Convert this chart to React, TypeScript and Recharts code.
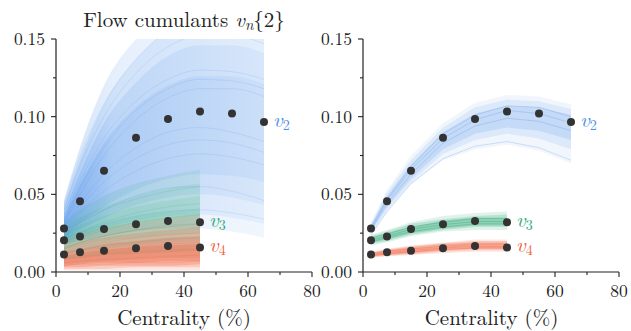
import { Area, ComposedChart, Line, Scatter, XAxis, YAxis } from "recharts";

// centrality bins (%)
const binsV2 = [2.5, 7.5, 15, 25, 35, 45, 55, 65];
const binsV3V4 = [2.5, 7.5, 15, 25, 35, 45];

// measured flow cumulants
const dataV2 = [0.028, 0.0455, 0.0652, 0.0865, 0.0985, 0.1034, 0.1021, 0.0966];
const dataV3 = [0.0205, 0.0229, 0.0277, 0.0307, 0.0328, 0.032];
const dataV4 = [0.0113, 0.0127, 0.0136, 0.0153, 0.0168, 0.0158];

// prior draws: nested envelopes, widest first
const priorV2Env = [
  { lo: [0.017, 0.02, 0.023, 0.026, 0.028, 0.028, 0.026, 0.022], hi: [0.046, 0.08, 0.12, 0.15, 0.168, 0.178, 0.178, 0.172] },
  { lo: [0.018, 0.023, 0.028, 0.033, 0.036, 0.037, 0.035, 0.031], hi: [0.042, 0.072, 0.108, 0.137, 0.155, 0.163, 0.163, 0.158] },
  { lo: [0.02, 0.027, 0.035, 0.043, 0.048, 0.05, 0.048, 0.043], hi: [0.038, 0.064, 0.096, 0.122, 0.139, 0.146, 0.146, 0.141] },
  { lo: [0.022, 0.031, 0.042, 0.053, 0.06, 0.063, 0.062, 0.058], hi: [0.034, 0.056, 0.083, 0.106, 0.12, 0.126, 0.126, 0.121] },
];
const priorV3Env = [
  { lo: [0.005, 0.006, 0.007, 0.008, 0.009, 0.009], hi: [0.032, 0.04, 0.049, 0.057, 0.062, 0.066] },
  { lo: [0.008, 0.009, 0.011, 0.012, 0.013, 0.014], hi: [0.028, 0.035, 0.042, 0.049, 0.054, 0.057] },
  { lo: [0.011, 0.013, 0.015, 0.017, 0.019, 0.02], hi: [0.025, 0.03, 0.036, 0.042, 0.046, 0.049] },
  { lo: [0.014, 0.017, 0.02, 0.022, 0.024, 0.025], hi: [0.022, 0.026, 0.031, 0.036, 0.039, 0.041] },
];
const priorV4Env = [
  { lo: [0.001, 0.001, 0.001, 0.001, 0.001, 0.001], hi: [0.02, 0.024, 0.028, 0.032, 0.035, 0.037] },
  { lo: [0.002, 0.002, 0.002, 0.003, 0.003, 0.003], hi: [0.016, 0.019, 0.022, 0.025, 0.027, 0.029] },
  { lo: [0.003, 0.003, 0.004, 0.004, 0.004, 0.005], hi: [0.013, 0.015, 0.018, 0.02, 0.022, 0.023] },
  { lo: [0.004, 0.005, 0.006, 0.006, 0.007, 0.007], hi: [0.01, 0.012, 0.014, 0.016, 0.017, 0.018] },
];

// a few individual prior curves
const priorV2Draws = [
  [0.03, 0.05, 0.075, 0.098, 0.112, 0.118, 0.118, 0.113],
  [0.025, 0.038, 0.052, 0.065, 0.073, 0.076, 0.074, 0.069],
  [0.04, 0.068, 0.1, 0.128, 0.145, 0.152, 0.152, 0.147],
  [0.022, 0.03, 0.04, 0.049, 0.054, 0.055, 0.052, 0.046],
  [0.034, 0.058, 0.086, 0.11, 0.124, 0.13, 0.129, 0.124],
  [0.028, 0.044, 0.063, 0.08, 0.09, 0.093, 0.09, 0.084],
  [0.02, 0.025, 0.031, 0.036, 0.039, 0.04, 0.038, 0.034],
  [0.043, 0.074, 0.108, 0.137, 0.155, 0.163, 0.163, 0.158],
  [0.026, 0.041, 0.058, 0.073, 0.082, 0.085, 0.083, 0.077],
  [0.032, 0.054, 0.08, 0.104, 0.118, 0.124, 0.123, 0.118],
];
const priorV3Draws = [
  [0.018, 0.022, 0.027, 0.032, 0.035, 0.037],
  [0.012, 0.014, 0.017, 0.019, 0.021, 0.022],
  [0.026, 0.032, 0.04, 0.047, 0.052, 0.055],
  [0.015, 0.019, 0.023, 0.027, 0.03, 0.031],
  [0.009, 0.01, 0.012, 0.013, 0.014, 0.015],
  [0.021, 0.026, 0.032, 0.038, 0.042, 0.044],
];
const priorV4Draws = [
  [0.008, 0.009, 0.011, 0.012, 0.013, 0.014],
  [0.004, 0.005, 0.005, 0.006, 0.006, 0.007],
  [0.013, 0.016, 0.019, 0.022, 0.024, 0.025],
  [0.01, 0.012, 0.014, 0.016, 0.018, 0.019],
  [0.006, 0.007, 0.008, 0.009, 0.01, 0.011],
  [0.016, 0.019, 0.023, 0.027, 0.029, 0.031],
];

// posterior draws: nested envelopes, widest first
const postV2Env = [
  { lo: [0.023, 0.038, 0.056, 0.072, 0.079, 0.082, 0.078, 0.07], hi: [0.032, 0.053, 0.075, 0.096, 0.109, 0.114, 0.113, 0.108] },
  { lo: [0.025, 0.04, 0.058, 0.076, 0.085, 0.089, 0.086, 0.079], hi: [0.031, 0.051, 0.072, 0.093, 0.106, 0.111, 0.11, 0.105] },
  { lo: [0.026, 0.042, 0.06, 0.079, 0.089, 0.093, 0.091, 0.085], hi: [0.03, 0.049, 0.069, 0.09, 0.102, 0.107, 0.106, 0.101] },
];
const postV3Env = [
  { lo: [0.017, 0.019, 0.023, 0.026, 0.027, 0.027], hi: [0.024, 0.027, 0.032, 0.036, 0.038, 0.039] },
  { lo: [0.018, 0.02, 0.024, 0.027, 0.029, 0.029], hi: [0.023, 0.026, 0.031, 0.034, 0.036, 0.037] },
  { lo: [0.019, 0.021, 0.025, 0.028, 0.03, 0.03], hi: [0.022, 0.025, 0.029, 0.033, 0.035, 0.035] },
];
const postV4Env = [
  { lo: [0.009, 0.01, 0.011, 0.012, 0.013, 0.013], hi: [0.013, 0.015, 0.017, 0.019, 0.021, 0.021] },
  { lo: [0.0095, 0.0105, 0.0115, 0.013, 0.014, 0.014], hi: [0.0125, 0.0145, 0.0165, 0.0185, 0.02, 0.02] },
  { lo: [0.01, 0.011, 0.012, 0.014, 0.015, 0.015], hi: [0.012, 0.014, 0.016, 0.018, 0.019, 0.019] },
];

const postV2Draws = [
  [0.028, 0.046, 0.066, 0.086, 0.098, 0.104, 0.102, 0.096],
  [0.027, 0.044, 0.063, 0.083, 0.094, 0.099, 0.097, 0.091],
  [0.029, 0.047, 0.068, 0.089, 0.101, 0.107, 0.106, 0.1],
  [0.024, 0.039, 0.057, 0.073, 0.081, 0.084, 0.08, 0.072],
];
const postV3Draws = [
  [0.0205, 0.023, 0.0275, 0.0305, 0.0325, 0.0325],
  [0.0195, 0.022, 0.026, 0.029, 0.031, 0.031],
  [0.022, 0.0245, 0.029, 0.032, 0.0345, 0.0345],
];
const postV4Draws = [
  [0.011, 0.0125, 0.0138, 0.0155, 0.0165, 0.0165],
  [0.0105, 0.0118, 0.013, 0.0145, 0.0155, 0.0155],
  [0.012, 0.0135, 0.0148, 0.0165, 0.0178, 0.018],
];

const xTicks = [0, 10, 20, 30, 40, 50, 60, 70, 80];
const yTicks = [0, 0.025, 0.05, 0.075, 0.1, 0.125, 0.15];

const SERIF = "'Latin Modern Roman', 'Liberation Serif', serif";
const INK = "#222";
const BLUE = "#4a8fe8";
const GREEN = "#2eaa78";
const RED = "#f0603c";

type Envelope = { lo: number[]; hi: number[] };
type Series = {
  order: string;
  color: string;
  fill: string;
  xs: number[];
  measured: number[];
  bands: Envelope[];
  bandOpacity: number[];
  draws: number[][];
  drawOpacity: number;
};

const toRange = (xs: number[], env: Envelope) => xs.map((x, i) => ({ x, range: [env.lo[i], env.hi[i]] }));
const toPoints = (xs: number[], ys: number[]) => xs.map((x, i) => ({ x, y: ys[i] }));

// prior curves bunch up at central collisions and fan out, so the fill fades left to right
const priorSeries: Series[] = [
  { order: "2", color: BLUE, fill: "url(#fanBlue)", xs: binsV2, measured: dataV2, bands: priorV2Env, bandOpacity: [1, 1, 1, 1], draws: priorV2Draws, drawOpacity: 0.15 },
  { order: "3", color: GREEN, fill: "url(#fanGreen)", xs: binsV3V4, measured: dataV3, bands: priorV3Env, bandOpacity: [1, 1, 1, 1], draws: priorV3Draws, drawOpacity: 0.15 },
  { order: "4", color: RED, fill: RED, xs: binsV3V4, measured: dataV4, bands: priorV4Env, bandOpacity: [0.15, 0.2, 0.25, 0.3], draws: priorV4Draws, drawOpacity: 0.18 },
];

const posteriorSeries: Series[] = [
  { order: "2", color: BLUE, fill: BLUE, xs: binsV2, measured: dataV2, bands: postV2Env, bandOpacity: [0.08, 0.12, 0.16], draws: postV2Draws, drawOpacity: 0.25 },
  { order: "3", color: GREEN, fill: GREEN, xs: binsV3V4, measured: dataV3, bands: postV3Env, bandOpacity: [0.15, 0.22, 0.3], draws: postV3Draws, drawOpacity: 0.35 },
  { order: "4", color: RED, fill: RED, xs: binsV3V4, measured: dataV4, bands: postV4Env, bandOpacity: [0.15, 0.22, 0.3], draws: postV4Draws, drawOpacity: 0.35 },
];

const textStyle = { fontFamily: SERIF };

function XTick(props: any) {
  const { x, y, payload } = props;
  const major = payload.value % 20 === 0;
  return (
    <g>
      <line x1={x} x2={x} y1={y} y2={y + (major ? 5 : 3)} stroke={INK} strokeWidth={1.1} />
      {major && (
        <text x={x} y={y + 25} textAnchor="middle" fill={INK} style={textStyle} fontSize={17.5}>
          {payload.value}
        </text>
      )}
    </g>
  );
}

function YTick(props: any) {
  const { x, y, payload } = props;
  const major = Math.round(payload.value * 1000) % 50 === 0;
  return (
    <g>
      <line x1={x - (major ? 5 : 3)} x2={x} y1={y} y2={y} stroke={INK} strokeWidth={1.1} />
      {major && (
        <text x={x - 11} y={y + 6} textAnchor="end" fill={INK} style={textStyle} fontSize={17.5}>
          {payload.value.toFixed(2)}
        </text>
      )}
    </g>
  );
}

function Panel({ series, curve, left }: { series: Series[]; curve: "monotone" | "linear"; left: number }) {
  return (
    <div style={{ position: "absolute", left, top: 0 }}>
      <ComposedChart width={330} height={331} margin={{ top: 39, right: 18, bottom: 0, left: 0 }}>
        <XAxis
          type="number"
          dataKey="x"
          domain={[0, 80]}
          ticks={xTicks}
          interval={0}
          height={59}
          tick={<XTick />}
          tickLine={false}
          tickSize={0}
          tickMargin={0}
          axisLine={{ stroke: INK, strokeWidth: 1.2 }}
          allowDataOverflow
        />
        <YAxis
          type="number"
          domain={[0, 0.15]}
          ticks={yTicks}
          interval={0}
          width={56}
          tick={<YTick />}
          tickLine={false}
          tickSize={0}
          tickMargin={0}
          axisLine={{ stroke: INK, strokeWidth: 1.2 }}
          allowDataOverflow
        />
        {series.flatMap((s) => [
          ...s.bands.map((env, i) => (
            <Area
              key={`band-${s.order}-${i}`}
              data={toRange(s.xs, env)}
              dataKey="range"
              type={curve}
              stroke="none"
              fill={s.fill}
              fillOpacity={s.bandOpacity[i]}
              isAnimationActive={false}
            />
          )),
          ...s.draws.map((d, i) => (
            <Line
              key={`draw-${s.order}-${i}`}
              data={toPoints(s.xs, d)}
              dataKey="y"
              type={curve}
              stroke={s.color}
              strokeOpacity={s.drawOpacity}
              strokeWidth={1}
              dot={false}
              activeDot={false}
              isAnimationActive={false}
            />
          )),
        ])}
        {series.map((s) => (
          <Scatter
            key={`data-${s.order}`}
            data={toPoints(s.xs, s.measured)}
            dataKey="y"
            isAnimationActive={false}
            shape={(p: any) => {
              const last = p.payload.x === s.xs[s.xs.length - 1];
              return (
                <g>
                  <circle cx={p.cx} cy={p.cy} r={4} fill="#333" />
                  {last && (
                    <text x={p.cx + 9} y={p.cy + 5} fill={s.color} style={textStyle} fontSize={21} fontStyle="italic">
                      v
                      <tspan fontSize={14} fontStyle="normal" dy={3}>
                        {s.order}
                      </tspan>
                    </text>
                  )}
                </g>
              );
            }}
          />
        ))}
      </ComposedChart>
    </div>
  );
}

export default function App() {
  return (
    <div style={{ position: "absolute", left: 0, top: 0, width: 631, height: 331, background: "#fff" }}>
      <svg width={0} height={0} style={{ position: "absolute" }}>
        <defs>
          <linearGradient id="fanBlue" x1="0" y1="0" x2="1" y2="0">
            <stop offset="0" stopColor={BLUE} stopOpacity={0.26} />
            <stop offset="0.25" stopColor={BLUE} stopOpacity={0.14} />
            <stop offset="1" stopColor={BLUE} stopOpacity={0.08} />
          </linearGradient>
          <linearGradient id="fanGreen" x1="0" y1="0" x2="1" y2="0">
            <stop offset="0" stopColor={GREEN} stopOpacity={0.14} />
            <stop offset="1" stopColor={GREEN} stopOpacity={0.11} />
          </linearGradient>
        </defs>
      </svg>
      <Panel series={priorSeries} curve="monotone" left={0} />
      <Panel series={posteriorSeries} curve="linear" left={307} />
      <svg width={631} height={331} style={{ position: "absolute", left: 0, top: 0, pointerEvents: "none" }}>
        <text x={184} y={27} textAnchor="middle" fill={INK} style={textStyle} fontSize={21}>
          Flow cumulants <tspan fontStyle="italic">v</tspan>
          <tspan fontStyle="italic" fontSize={15} dy={3}>n</tspan>
          <tspan dy={-3}>{"{2}"}</tspan>
        </text>
        <text x={184} y={325} textAnchor="middle" fill={INK} style={textStyle} fontSize={21}>
          Centrality (%)
        </text>
        <text x={491.5} y={325} textAnchor="middle" fill={INK} style={textStyle} fontSize={21}>
          Centrality (%)
        </text>
      </svg>
    </div>
  );
}
